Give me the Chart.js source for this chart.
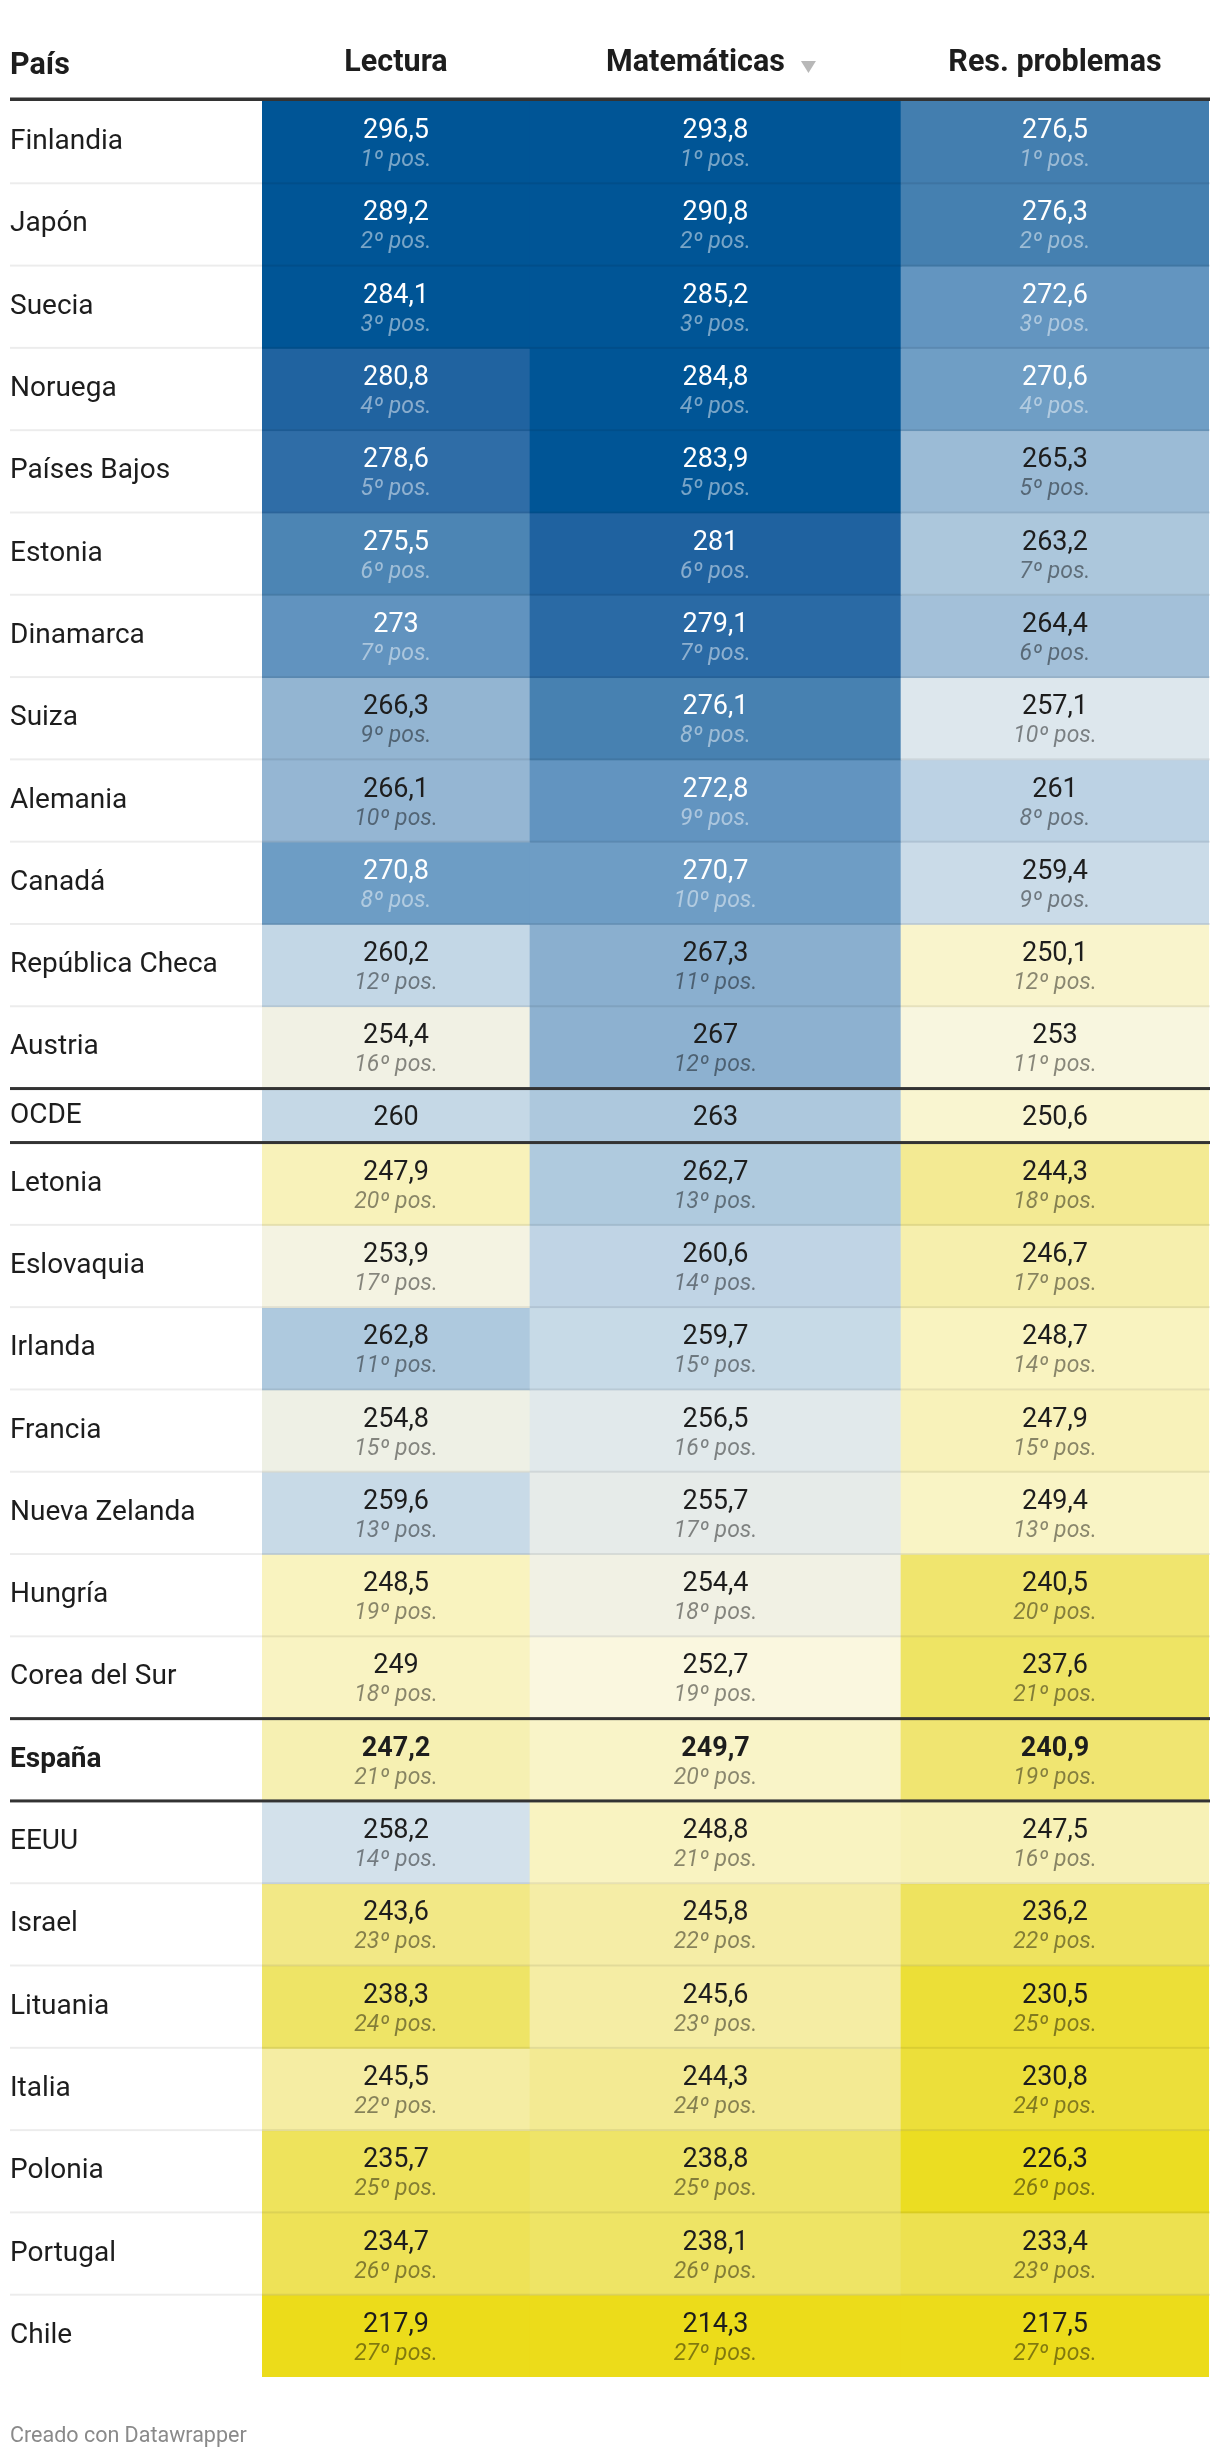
<!DOCTYPE html>
<html><head><meta charset="utf-8">
<script src="https://cdn.jsdelivr.net/npm/chart.js@4.4.1/dist/chart.umd.min.js"></script>
<style>html,body{margin:0;padding:0;background:#fff;}canvas{display:block;}</style>
</head><body>
<canvas id="c" width="1220" height="2452"></canvas>
<script>
// ---------- DATA ----------
const countries = ["Finlandia","Japón","Suecia","Noruega","Países Bajos","Estonia","Dinamarca","Suiza","Alemania","Canadá","República Checa","Austria","OCDE","Letonia","Eslovaquia","Irlanda","Francia","Nueva Zelanda","Hungría","Corea del Sur","España","EEUU","Israel","Lituania","Italia","Polonia","Portugal","Chile"];
const columns = ["Lectura","Matemáticas","Res. problemas"];
const firstHeader = "País";
const lectura = [296.5,289.2,284.1,280.8,278.6,275.5,273,266.3,266.1,270.8,260.2,254.4,260,247.9,253.9,262.8,254.8,259.6,248.5,249,247.2,258.2,243.6,238.3,245.5,235.7,234.7,217.9];
const lecturaPos = [1,2,3,4,5,6,7,9,10,8,12,16,null,20,17,11,15,13,19,18,21,14,23,24,22,25,26,27];
const matematicas = [293.8,290.8,285.2,284.8,283.9,281,279.1,276.1,272.8,270.7,267.3,267,263,262.7,260.6,259.7,256.5,255.7,254.4,252.7,249.7,248.8,245.8,245.6,244.3,238.8,238.1,214.3];
const matematicasPos = [1,2,3,4,5,6,7,8,9,10,11,12,null,13,14,15,16,17,18,19,20,21,22,23,24,25,26,27];
const resProblemas = [276.5,276.3,272.6,270.6,265.3,263.2,264.4,257.1,261,259.4,250.1,253,250.6,244.3,246.7,248.7,247.9,249.4,240.5,237.6,240.9,247.5,236.2,230.5,230.8,226.3,233.4,217.5];
const resProblemasPos = [1,2,3,4,5,7,6,10,8,9,12,11,null,18,17,14,15,13,20,21,19,16,22,25,24,26,23,27];
const summaryRow = "OCDE";
const highlightRow = "España";
const sortedColumn = 1;
const footerText = "Creado con Datawrapper";

// ---------- LAYOUT / STYLE ----------
const FONT = "Roboto";
const COL_W = [268, 371, 308];
const ROW_H = 82.3, SUMMARY_H = 54;
const STOPS = [
 [218,[236,220,26]],[226.3,[235,221,34]],[230.6,[236,223,56]],[233.4,[237,225,80]],
 [236,[238,227,94]],[238.3,[238,228,102]],[240.7,[240,229,111]],[243.6,[242,232,134]],
 [244.3,[243,234,147]],[245.5,[245,237,163]],[247,[246,239,176]],[248,[248,242,187]],
 [249,[249,243,194]],[250.5,[249,245,207]],[252.7,[250,247,223]],[253.5,[246,245,224]],
 [254.5,[240,241,228]],[256,[228,234,234]],[257.1,[221,231,237]],[258.2,[211,225,235]],
 [260,[197,216,230]],[261,[188,210,228]],[263,[173,200,221]],[265,[158,189,215]],
 [267,[141,177,208]],[270.7,[110,157,197]],[273,[97,147,191]],[276.3,[69,128,176]],
 [279,[43,106,165]],[281,[31,98,160]],[283.5,[0,85,150]]
];
function colorFor(v){
  if (v <= STOPS[0][0]) return `rgb(${STOPS[0][1].join(',')})`;
  for (let i=1;i<STOPS.length;i++){
    if (v <= STOPS[i][0]){
      const [a,ca]=STOPS[i-1],[b,cb]=STOPS[i];
      const t=(v-a)/(b-a);
      return `rgb(${ca.map((c,k)=>Math.round(c+(cb[k]-c)*t)).join(',')})`;
    }
  }
  return `rgb(${STOPS[STOPS.length-1][1].join(',')})`;
}
const isDark = v => v >= 269.5;
const fmt = v => String(v).replace('.', ',');

const series = [lectura, matematicas, resProblemas];
const positions = [lecturaPos, matematicasPos, resProblemasPos];
const colEdges = [0]; COL_W.forEach(w => colEdges.push(colEdges[colEdges.length-1] + w));
const heights = countries.map(c => c === summaryRow ? SUMMARY_H : ROW_H);
const starts = []; let acc = 0; heights.forEach(h => { starts.push(acc); acc += h; });
const totalH = acc;
const centers = starts.map((s,i) => s + heights[i]/2);
const colCenters = COL_W.map((w,j) => colEdges[j] + w/2 - (j === sortedColumn ? 20 : 0));

const datasets = countries.map((c,i) => ({
  label: c,
  data: series.map((s,j) => ({ x: [colEdges[j], colEdges[j+1]], y: centers[i] })),
  backgroundColor: series.map(s => colorFor(s[i])),
  borderWidth: 0,
  barThickness: heights[i] + 1,
  grouped: false
}));

const tablePlugin = {
  id: 'tableText',
  afterDatasetsDraw(chart){
    const {ctx, scales:{x, y}, chartArea:a} = chart;
    ctx.save();
    const L = 10, R = a.right + 1;
    const thickAt = new Set();
    countries.forEach((c,i) => {
      if (c === summaryRow || c === highlightRow){ thickAt.add(i); thickAt.add(i+1); }
    });
    // light separators
    ctx.fillStyle = 'rgba(0,0,0,0.075)';
    for (let i=1;i<countries.length;i++){
      if (thickAt.has(i)) continue;
      const yy = y.getPixelForValue(starts[i]);
      ctx.fillRect(L, yy - 1, R - L, 2);
    }
    // thick lines
    ctx.fillStyle = '#333';
    ctx.fillRect(L, a.top - 3.5, R - L, 3.5);
    thickAt.forEach(i => {
      const yy = y.getPixelForValue(starts[i]);
      ctx.fillRect(L, yy - 1.5, R - L, 3);
    });
    // cell texts
    ctx.textAlign = 'center';
    ctx.textBaseline = 'alphabetic';
    countries.forEach((c,i) => {
      const meta = chart.getDatasetMeta(i);
      const cy = y.getPixelForValue(centers[i]);
      const bold = c === highlightRow ? 'bold ' : '';
      series.forEach((s,j) => {
        const bar = meta.data[j];
        const cx = (bar.x + bar.base)/2;
        const v = s[i];
        const dark = isDark(v);
        ctx.font = `${bold}27px ${FONT}`;
        ctx.fillStyle = dark ? '#ffffff' : '#1d1d1d';
        const p = positions[j][i];
        if (p == null){
          ctx.fillText(fmt(v), cx, cy + 9.5);
        } else {
          ctx.fillText(fmt(v), cx, cy - 4);
          ctx.font = `italic 23px ${FONT}`;
          ctx.fillStyle = dark ? 'rgba(255,255,255,0.47)' : 'rgba(0,0,0,0.45)';
          ctx.fillText(p + 'º pos.', cx, cy + 24);
        }
      });
    });
    // header: first column label + sort arrow
    ctx.textAlign = 'left';
    ctx.fillStyle = '#1d1d1d';
    ctx.font = `bold 30.5px ${FONT}`;
    ctx.fillText(firstHeader, L, 74);
    const w = ctx.measureText(columns[sortedColumn]).width;
    const ax = x.getPixelForValue(colCenters[sortedColumn]) + w/2 + 16;
    ctx.fillStyle = '#b8b8b8';
    ctx.beginPath();
    ctx.moveTo(ax, 61); ctx.lineTo(ax + 15, 61); ctx.lineTo(ax + 7.5, 73); ctx.closePath();
    ctx.fill();
    ctx.restore();
  }
};

Chart.defaults.font.family = FONT;
new Chart(document.getElementById('c'), {
  type: 'bar',
  data: { datasets },
  options: {
    indexAxis: 'y',
    responsive: false,
    animation: false,
    events: [],
    layout: { padding: { left: 10, right: 11, top: 0, bottom: 0 } },
    scales: {
      x: {
        type: 'linear', position: 'top', min: 0, max: colEdges[colEdges.length-1], offset: false,
        grid: { display: false, drawTicks: false }, border: { display: false },
        afterFit: s => { s.height = 101; },
        afterBuildTicks: s => { s.ticks = colCenters.map(v => ({ value: v })); },
        ticks: {
          autoSkip: false, maxRotation: 0, padding: 19, color: '#1d1d1d',
          font: { family: FONT, size: 30.5, weight: 'bold' },
          callback: (v, i) => columns[i]
        }
      },
      y: {
        type: 'linear', reverse: true, min: 0, max: totalH, offset: false,
        grid: { display: false, drawTicks: false, offset: false }, border: { display: false },
        afterFit: s => { s.width = 252; },
        afterBuildTicks: s => { s.ticks = centers.map(v => ({ value: v })); },
        ticks: {
          autoSkip: false, crossAlign: 'far', padding: 0, color: '#1d1d1d',
          font: ctx => ({ family: FONT, size: 28, weight: countries[ctx.index] === highlightRow ? 'bold' : 'normal' }),
          callback: (v, i) => countries[i]
        }
      }
    },
    plugins: {
      legend: { display: false },
      tooltip: { enabled: false },
      title: {
        display: true, text: footerText, position: 'bottom', align: 'start',
        color: '#8a8a8a', font: { family: FONT, size: 21.5, weight: 'normal' },
        padding: { top: 47, bottom: 2.2 }
      }
    }
  },
  plugins: [tablePlugin]
});
</script>
</body></html>
